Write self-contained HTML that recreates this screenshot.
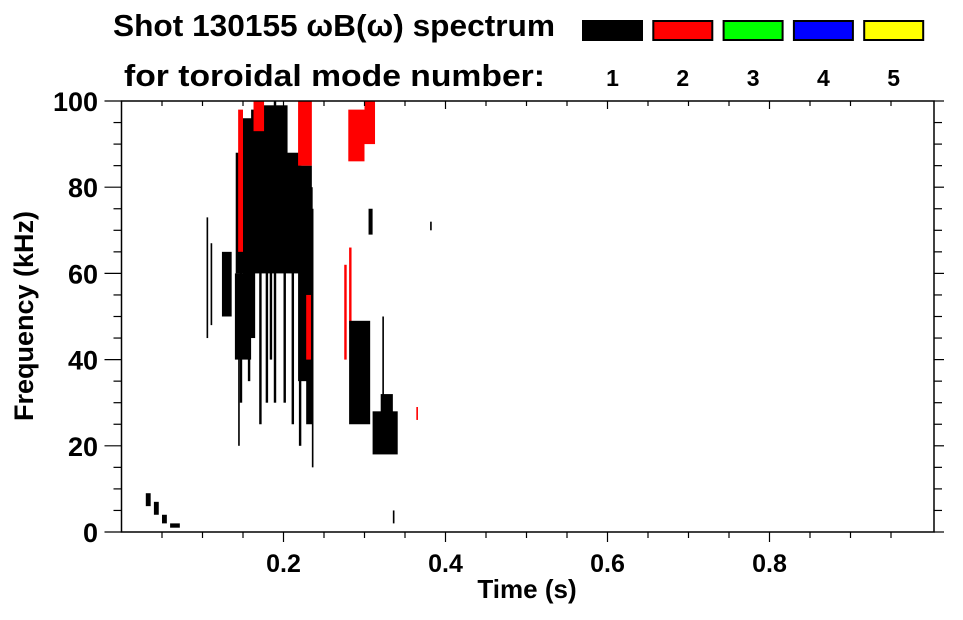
<!DOCTYPE html>
<html><head><meta charset="utf-8"><style>
body{margin:0;background:#fff;width:963px;height:615px;overflow:hidden;font-family:"Liberation Sans",sans-serif}
svg text{font-family:"Liberation Sans",sans-serif;font-weight:bold;fill:#000}
</style></head><body>
<svg id="chart" width="963" height="615" xmlns="http://www.w3.org/2000/svg">
<text x="113" y="36" font-size="31" textLength="442" lengthAdjust="spacingAndGlyphs">Shot 130155 ωB(ω) spectrum</text>
<text x="124" y="86" font-size="31" textLength="421" lengthAdjust="spacingAndGlyphs">for toroidal mode number:</text>
<g id="legend"></g>
<g id="marks"></g>
<g id="axes"></g>
<text x="527" y="598" font-size="26" text-anchor="middle">Time (s)</text>
<text transform="translate(33,316) rotate(-90)" font-size="27" text-anchor="middle">Frequency (kHz)</text>
</svg>
<script>
const modeNumbers=[1,2,3,4,5];
const modeColors=['#000000','#ff0000','#00ff00','#0000ff','#ffff00'];
const xTicks=[0.2,0.4,0.6,0.8];
const yTicks=[0,20,40,60,80,100];
// spectral features: time range (s), frequency range (kHz), mode number
const segT0=[0.105,0.110,0.124,0.141,0.150,0.160,0.175,0.218,0.228,0.144,0.146,0.156,0.170,0.178,0.183,0.188,0.200,0.210,0.219,0.235,0.144,0.163,0.218,0.228,0.030,0.040,0.050,0.060,0.281,0.280,0.290,0.300,0.281,0.290,0.310,0.320,0.305,0.322,0.364,0.381,0.275,0.335,0.140,0.150];
const segT1=[0.107,0.112,0.136,0.220,0.200,0.200,0.205,0.235,0.236,0.146,0.149,0.159,0.173,0.181,0.186,0.191,0.203,0.213,0.222,0.237,0.150,0.176,0.235,0.234,0.036,0.046,0.056,0.072,0.284,0.300,0.300,0.313,0.307,0.300,0.341,0.335,0.310,0.324,0.366,0.383,0.278,0.337,0.160,0.165];
const segF0=[45,48,50,60,85,88,85,35,25,20,30,35,25,30,40,30,30,25,20,15,65,93,85,40,6,4,2,1,47,86,88,90,25,35,18,22,69,30,26,70,40,2,40,45];
const segF1=[73,67,65,88,96,98,99,85,80,60,80,85,75,70,80,100,80,85,85,75,98,100,100,55,9,7,4,2,66,98,96,100,49,42,28,32,75,50,29,72,62,5,60,62];
const segMode=[1,1,1,1,1,1,1,1,1,1,1,1,1,1,1,1,1,1,1,1,2,2,2,2,1,1,1,1,2,2,2,2,1,1,1,1,1,1,2,1,2,1,1,1];
const NS='http://www.w3.org/2000/svg';
const X0=121.5,X1=934,Y0=532,Y1=101;
function xs(t){return X0+t*810;}
function ys(f){return Y0-(f/100)*(Y0-Y1);}
function mk(tag,attrs,parent){const e=document.createElementNS(NS,tag);for(const k in attrs)e.setAttribute(k,attrs[k]);parent.appendChild(e);return e;}
const marks=document.getElementById('marks');
for(let i=0;i<segT0.length;i++){
  const r=mk('rect',{x:xs(segT0[i]),y:ys(segF1[i]),width:Math.max(1.5,xs(segT1[i])-xs(segT0[i])),height:ys(segF0[i])-ys(segF1[i]),fill:modeColors[segMode[i]-1]},marks);
  
  
}
const leg=document.getElementById('legend');
for(let i=0;i<modeNumbers.length;i++){
  const bx=583+i*70.3;
  const r=mk('rect',{x:bx,y:21,width:59,height:19,fill:modeColors[i],stroke:'#000','stroke-width':2},leg);
  
  
  const t=mk('text',{x:bx+29.5,y:86,'font-size':23,'text-anchor':'middle'},leg);
  t.textContent=modeNumbers[i];
  
  
}
const ax=document.getElementById('axes');
const fr=mk('rect',{x:X0,y:Y1,width:X1-X0,height:Y0-Y1,fill:'none',stroke:'#000','stroke-width':1.5},ax);


for(let k=1;k*0.05<1.0;k++){
  const t=k*0.05,x=xs(t),major=(k%4===0);
  mk('line',{x1:x,y1:Y0,x2:x,y2:Y0+(major?10:6),stroke:'#000','stroke-width':1.2},ax);
  mk('line',{x1:x,y1:Y1,x2:x,y2:Y1+(major?8:5),stroke:'#000','stroke-width':1.2},ax);
}
for(const t of xTicks){
  const l=mk('text',{x:xs(t),y:572,'font-size':25,'text-anchor':'middle'},ax);
  l.textContent=t.toFixed(1);
  
  
}
for(let k=0;k<=20;k++){
  const f=k*5,y=ys(f),major=(k%4===0);
  mk('line',{x1:X0,y1:y,x2:X0-(major?17:8),y2:y,stroke:'#000','stroke-width':1.2},ax);
  mk('line',{x1:X1,y1:y,x2:X1+(major?10:8),y2:y,stroke:'#000','stroke-width':1.2},ax);
}
for(const f of yTicks){
  const l=mk('text',{x:98,y:ys(f)+10,'font-size':27,'text-anchor':'end'},ax);
  l.textContent=f;
  
  
}
</script>
</body></html>
